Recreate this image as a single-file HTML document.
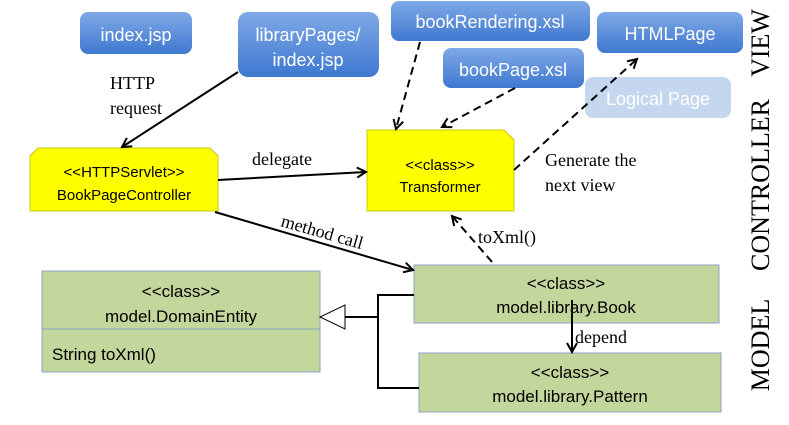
<!DOCTYPE html>
<html><head><meta charset="utf-8"><style>
body{margin:0;background:#fff}
svg{display:block}
.s{font-family:"Liberation Sans",sans-serif}
.r{font-family:"Liberation Serif",serif}
</style></head><body>
<svg width="789" height="425" viewBox="0 0 789 425" xmlns="http://www.w3.org/2000/svg">
<defs>
<linearGradient id="b" x1="0" y1="0" x2="0" y2="1"><stop offset="0" stop-color="#7fa9e6"/><stop offset="1" stop-color="#3f78d0"/></linearGradient>
<marker id="a" markerWidth="12" markerHeight="12" refX="10" refY="6" orient="auto" markerUnits="userSpaceOnUse"><path d="M1,1 L10,6 L1,11" fill="none" stroke="#000" stroke-width="2"/></marker>
</defs>
<g fill="url(#b)">
<rect x="80" y="12" width="112" height="42" rx="8"/>
<rect x="238" y="12" width="141" height="65" rx="10"/>
<rect x="391" y="1" width="199" height="40" rx="8"/>
<rect x="597" y="12" width="146" height="41" rx="8"/>
<rect x="443" y="48" width="141" height="40" rx="8"/>
</g>
<rect x="585" y="77" width="146" height="41" rx="8" fill="#c5d6ef"/>
<g class="s" fill="#fff" font-size="18" text-anchor="middle">
<text x="136" y="41">index.jsp</text>
<text x="308" y="41">libraryPages/</text>
<text x="308" y="66">index.jsp</text>
<text x="490" y="28">bookRendering.xsl</text>
<text x="670" y="40">HTMLPage</text>
<text x="513" y="76">bookPage.xsl</text>
<text x="658" y="105">Logical Page</text>
</g>
<path d="M38,148 L210,148 L218,156 L218,211 L30,211 L30,156 Z" fill="#ffff00" stroke="#c8c800"/>
<path d="M367,130 L504,130 L514,140 L514,211 L367,211 Z" fill="#ffff00" stroke="#c8c800"/>
<g class="s" font-size="15" text-anchor="middle">
<text x="124" y="177">&lt;&lt;HTTPServlet&gt;&gt;</text>
<text x="124" y="200">BookPageController</text>
<text x="440" y="170">&lt;&lt;class&gt;&gt;</text>
<text x="440" y="192">Transformer</text>
</g>
<g fill="#c3d69b" stroke="#8ea4c8">
<rect x="42" y="271" width="278" height="101"/>
<line x1="42" y1="329" x2="320" y2="329"/>
<rect x="414" y="265" width="305" height="58"/>
<rect x="419" y="353" width="302" height="59"/>
</g>
<g class="s" font-size="17" text-anchor="middle">
<text x="181" y="297">&lt;&lt;class&gt;&gt;</text>
<text x="181" y="322">model.DomainEntity</text>
<text x="566" y="289">&lt;&lt;class&gt;&gt;</text>
<text x="566" y="313">model.library.Book</text>
<text x="570" y="378">&lt;&lt;class&gt;&gt;</text>
<text x="570" y="402">model.library.Pattern</text>
<text x="52" y="360" text-anchor="start">String toXml()</text>
</g>
<g stroke="#000" stroke-width="2" fill="none">
<line x1="238" y1="72" x2="122" y2="147" marker-end="url(#a)"/>
<line x1="218" y1="180" x2="366" y2="172" marker-end="url(#a)"/>
<line x1="215" y1="212" x2="413" y2="270" marker-end="url(#a)"/>
<line x1="572" y1="300" x2="572" y2="352" marker-end="url(#a)"/>
<g stroke-dasharray="8,5">
<line x1="492" y1="262" x2="452" y2="216" marker-end="url(#a)"/>
<line x1="420" y1="42" x2="396" y2="129" marker-end="url(#a)"/>
<line x1="515" y1="88" x2="442" y2="127" marker-end="url(#a)"/>
<line x1="514" y1="170" x2="637" y2="59" marker-end="url(#a)"/>
</g>
<path d="M414,295 L378,295 L378,388 L419,388 M378,317 L345,317"/>
</g>
<path d="M345,305 L345,329 L320,317 Z" fill="#fff" stroke="#000" stroke-width="1"/>
<g class="r" font-size="18">
<text x="110" y="89">HTTP</text>
<text x="110" y="114">request</text>
<text x="252" y="165">delegate</text>
<text x="280" y="226" transform="rotate(16 280 226)">method call</text>
<text x="478" y="243">toXml()</text>
<text x="545" y="166">Generate the</text>
<text x="545" y="191">next view</text>
<text x="575" y="343">depend</text>
</g>
<g class="r" font-size="26" text-anchor="middle">
<text transform="translate(769,43) rotate(-90)">VIEW</text>
<text transform="translate(769,185) rotate(-90)">CONTROLLER</text>
<text transform="translate(769,345) rotate(-90)">MODEL</text>
</g>
</svg>
</body></html>
